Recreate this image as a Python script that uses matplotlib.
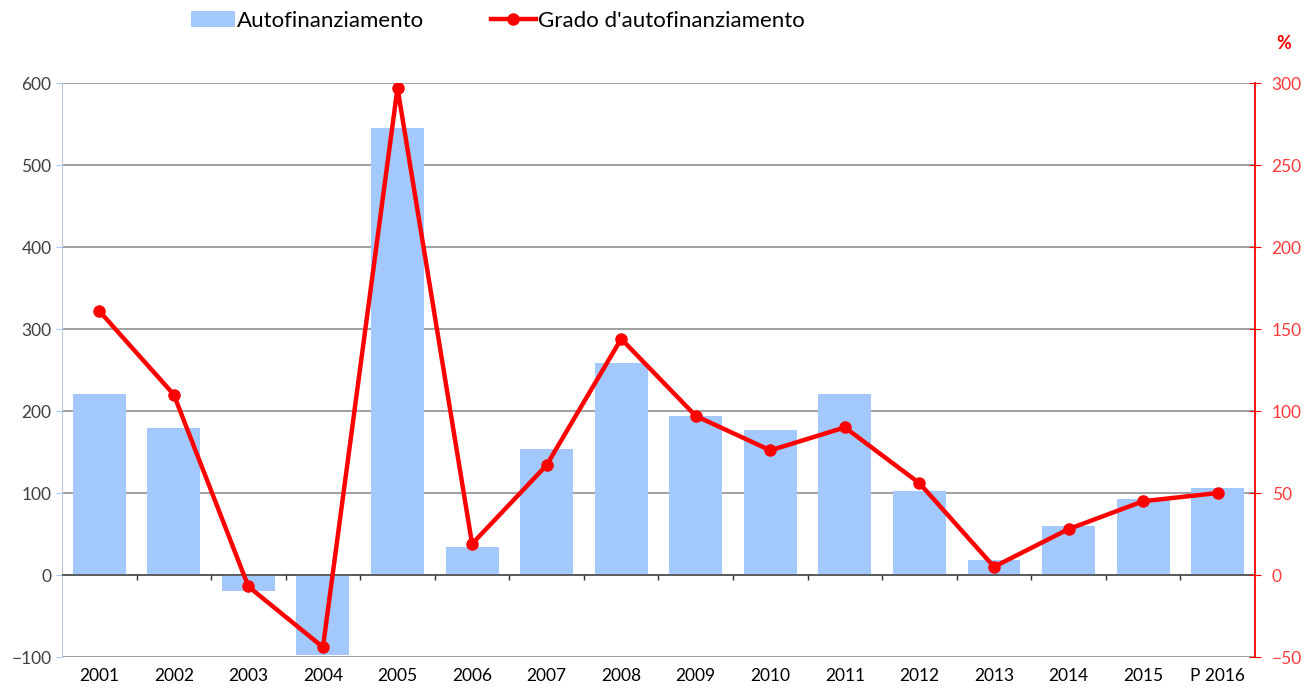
import numpy as np, matplotlib
matplotlib.use("Agg"); import matplotlib.pyplot as plt

years = ["2001", "2002", "2003", "2004", "2005", "2006", "2007", "2008",
         "2009", "2010", "2011", "2012", "2013", "2014", "2015", "P 2016"]
autofin = [221, 179, -20, -98, 545, 34, 154, 259, 194, 177, 221, 102, 18, 60, 93, 106]
grado = [161, 110, -7, -44, 297, 19, 67, 144, 97, 76, 90, 56, 5, 28, 45, 50]

BAR = "#a3c8fc"; RED = "#ff0000"; GRID = "#999999"; TXT = "#404040"
plt.rcParams.update({"font.family": ["Lato", "DejaVu Sans"], "font.size": 12.5})

fig = plt.figure(figsize=(13.13, 6.9), dpi=100)
ax = fig.add_axes([0.0472, 0.0478, 0.9086, 0.8319])
x = np.arange(len(years))

ax.bar(x, autofin, width=0.71, color=BAR, zorder=2, label="Autofinanziamento")
ax.set_xlim(-0.5, len(years) - 0.5)
ax.set_ylim(-100, 600)
ax.set_yticks(np.arange(-100, 601, 100))
ax.grid(axis="y", color=GRID, lw=1.3, zorder=0)
ax.set_axisbelow(True)
ax.axhline(0, color="#505050", lw=1.2, zorder=3)
ax.vlines(np.arange(0.5, len(years) - 1, 1), -6, 0, color="#303030", lw=1, zorder=3)
for s in ["top", "bottom", "right"]:
    ax.spines[s].set_visible(False)
ax.spines["left"].set_color("#b8c8dc")
ax.tick_params(axis="y", colors="#a3c8fc", labelcolor=TXT, length=4)
ax.set_xticks(x)
ax.set_xticklabels(years, color="black", fontsize=12.5)
ax.tick_params(axis="x", length=0, pad=8)

a2 = ax.twinx()
a2.plot(x, grado, color=RED, lw=3.2, marker="o", ms=8, zorder=4, label="Grado d'autofinanziamento")
a2.set_ylim(-50, 300)
a2.set_yticks(np.arange(-50, 301, 50))
for s in ["top", "bottom", "left"]:
    a2.spines[s].set_visible(False)
a2.spines["right"].set_color(RED)
a2.spines["right"].set_linewidth(1.3)
a2.tick_params(axis="y", colors=RED, labelcolor="#ff3b3b", direction="inout", length=8, pad=8)
fig.text(0.978, 0.937, "%", color=RED, fontsize=13, fontweight="bold", ha="center", va="center")

h1, l1 = ax.get_legend_handles_labels()
h2, l2 = a2.get_legend_handles_labels()
fig.legend(h1 + h2, l1 + l2, loc="center", bbox_to_anchor=(0.379, 0.97), ncol=2,
           frameon=False, fontsize=16, columnspacing=3.0, handlelength=2.0, handletextpad=0.1)

plt.savefig("out.png", dpi=100)
